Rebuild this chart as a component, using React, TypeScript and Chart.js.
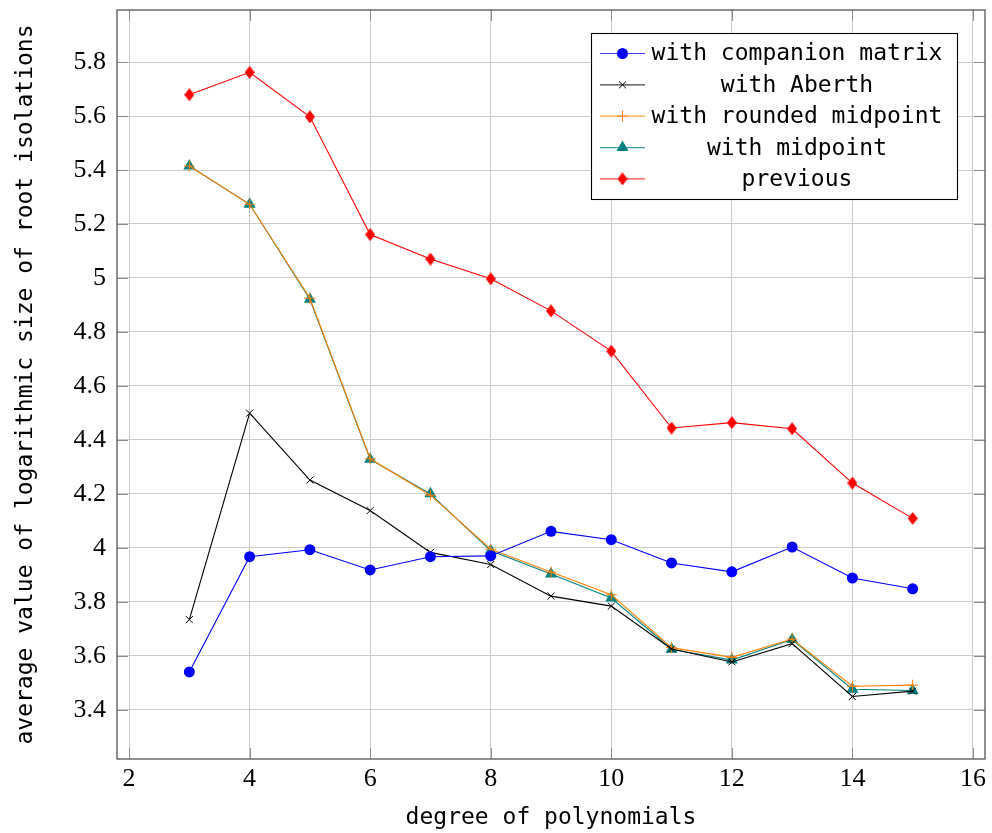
import React, { useEffect, useRef } from "react";
import { Chart, registerables } from "chart.js";
import { drawPoint } from "chart.js/helpers";

Chart.register(...registerables);

// ---- data ----
const degrees = [3, 4, 5, 6, 7, 8, 9, 10, 11, 12, 13, 14, 15];
const companion = [3.54, 3.967, 3.993, 3.918, 3.967, 3.97, 4.061, 4.03, 3.944, 3.911, 4.003, 3.888, 3.848];
const aberth = [3.734, 4.499, 4.251, 4.138, 3.983, 3.938, 3.821, 3.784, 3.625, 3.577, 3.645, 3.449, 3.469];
const roundedMidpoint = [5.415, 5.273, 4.925, 4.33, 4.195, 3.995, 3.91, 3.826, 3.63, 3.594, 3.662, 3.487, 3.491];
const midpoint = [5.415, 5.273, 4.921, 4.328, 4.2, 3.989, 3.903, 3.814, 3.624, 3.584, 3.66, 3.476, 3.471];
const previous = [5.679, 5.762, 5.597, 5.161, 5.07, 4.997, 4.878, 4.729, 4.444, 4.464, 4.441, 4.24, 4.109];

const seriesLabels = [
  "with companion matrix",
  "with Aberth",
  "with rounded midpoint",
  "with midpoint",
  "previous",
];
const xTicks = [2, 4, 6, 8, 10, 12, 14, 16];
const yTicks = [3.4, 3.6, 3.8, 4, 4.2, 4.4, 4.6, 4.8, 5, 5.2, 5.4, 5.6, 5.8];
const xTitle = "degree of polynomials";
const yTitle = "average value of logarithmic size of root isolations";

const MONO = "'DejaVu Sans Mono', 'Liberation Mono', monospace";
const SERIF = "'Liberation Serif', 'DejaVu Serif', serif";

function makeDiamond(color: string) {
  const c = document.createElement("canvas");
  c.width = 10;
  c.height = 13;
  const g = c.getContext("2d")!;
  g.fillStyle = color;
  g.beginPath();
  g.moveTo(5, 0);
  g.lineTo(10, 6.5);
  g.lineTo(5, 13);
  g.lineTo(0, 6.5);
  g.closePath();
  g.fill();
  return c;
}

const framePlugin = {
  id: "pgfFrame",
  afterDatasetsDraw(chart: any) {
    const { ctx, chartArea: a, scales } = chart;
    ctx.save();
    ctx.strokeStyle = "#8c8c8c";
    ctx.lineWidth = 1;
    const seg = (x1: number, y1: number, x2: number, y2: number) => {
      ctx.beginPath();
      ctx.moveTo(x1, y1);
      ctx.lineTo(x2, y2);
      ctx.stroke();
    };
    const tl = 11;
    for (const v of xTicks) {
      const px = Math.round(scales.x.getPixelForValue(v)) + 0.5;
      seg(px, a.bottom, px, a.bottom - tl);
      seg(px, a.top, px, a.top + tl);
    }
    for (const v of yTicks) {
      const py = Math.round(scales.y.getPixelForValue(v)) + 0.5;
      seg(a.left, py, a.left + tl, py);
      seg(a.right, py, a.right - tl, py);
    }
    ctx.strokeStyle = "#555555";
    ctx.lineWidth = 1.3;
    ctx.strokeRect(a.left, a.top, a.right - a.left, a.bottom - a.top);

    // legend
    const bw = 366;
    const bh = 166;
    const bx = a.right - 28 - bw;
    const by = a.top + 23;
    ctx.fillStyle = "#ffffff";
    ctx.fillRect(bx, by, bw, bh);
    ctx.strokeStyle = "#000000";
    ctx.lineWidth = 1.1;
    ctx.strokeRect(bx + 0.5, by + 0.5, bw, bh);
    const rowH = 31.35;
    const firstRow = by + 20.5;
    const textCenter = bx + 206;
    chart.data.datasets.forEach((ds: any, i: number) => {
      const cy = firstRow + i * rowH;
      ctx.globalAlpha = 0.75;
      ctx.strokeStyle = ds.borderColor;
      ctx.lineWidth = 1.2;
      seg(bx + 9, cy, bx + 54, cy);
      ctx.globalAlpha = 1;
      ctx.fillStyle = ds.pointBackgroundColor;
      ctx.strokeStyle = ds.pointBorderColor;
      ctx.lineWidth = ds.pointBorderWidth;
      drawPoint(ctx, { pointStyle: ds.pointStyle, radius: ds.pointRadius, rotation: 0, borderWidth: ds.pointBorderWidth }, bx + 31.5, cy);
      ctx.fillStyle = "#000000";
      ctx.font = `23px ${MONO}`;
      ctx.textAlign = "center";
      ctx.textBaseline = "middle";
      ctx.fillText(ds.label, textCenter, cy + 1);
    });
    ctx.restore();
  },
};

export default function App() {
  const ref = useRef<HTMLCanvasElement | null>(null);

  useEffect(() => {
    if (!ref.current) return;
    const mk = (vals: number[]) => degrees.map((d, i) => ({ x: d, y: vals[i] }));
    const styles = [
      { color: "#0000ff", pointStyle: "circle", radius: 5.5, bw: 0 },
      { color: "#000000", pointStyle: "crossRot", radius: 5, bw: 1 },
      { color: "#ff8000", pointStyle: "cross", radius: 5.5, bw: 1 },
      { color: "#008080", pointStyle: "triangle", radius: 7, bw: 0 },
      { color: "#ff0000", pointStyle: makeDiamond("#ff0000"), radius: 5, bw: 0 },
    ];
    const series = [companion, aberth, roundedMidpoint, midpoint, previous];
    const datasets = series.map((vals, i) => ({
      label: seriesLabels[i],
      data: mk(vals),
      borderColor: styles[i].color,
      backgroundColor: styles[i].color,
      pointBackgroundColor: styles[i].color,
      pointBorderColor: styles[i].color,
      pointBorderWidth: styles[i].bw,
      pointStyle: styles[i].pointStyle as any,
      pointRadius: styles[i].radius,
      pointHoverRadius: styles[i].radius,
      borderWidth: 1.1,
      tension: 0,
      fill: false,
    }));

    const chart = new Chart(ref.current, {
      type: "line",
      data: { datasets },
      plugins: [framePlugin],
      options: {
        animation: false,
        responsive: false,
        maintainAspectRatio: false,
        layout: { padding: { left: 12, top: 10, right: 6, bottom: 1 } },
        plugins: { legend: { display: false }, tooltip: { enabled: false } },
        scales: {
          x: {
            type: "linear",
            min: 1.8,
            max: 16.2,
            afterBuildTicks: (s: any) => {
              s.ticks = xTicks.map((v) => ({ value: v }));
            },
            afterFit: (s: any) => {
              s.height = 73;
              s.paddingLeft = 0;
              s.paddingRight = 0;
              s.paddingTop = 0;
              s.paddingBottom = 0;
            },
            grid: { color: "#cccccc", lineWidth: 1, drawTicks: false },
            border: { display: false },
            ticks: {
              padding: 5,
              color: "#000",
              font: { family: SERIF, size: 26 },
              callback: (v: any) => String(v),
            },
            title: {
              display: true,
              text: xTitle,
              color: "#000",
              font: { family: MONO, size: 23 },
              padding: 0,
            },
          },
          y: {
            type: "linear",
            min: 3.2174,
            max: 5.993,
            afterBuildTicks: (s: any) => {
              s.ticks = yTicks.map((v) => ({ value: v }));
            },
            afterFit: (s: any) => {
              s.width = 105;
              s.paddingLeft = 0;
              s.paddingRight = 0;
              s.paddingTop = 0;
              s.paddingBottom = 0;
            },
            grid: { color: "#cccccc", lineWidth: 1, drawTicks: false },
            border: { display: false },
            ticks: {
              padding: 11,
              color: "#000",
              font: { family: SERIF, size: 26 },
              callback: (v: any) => String(Math.round(v * 10) / 10),
            },
            title: {
              display: true,
              text: yTitle,
              color: "#000",
              font: { family: MONO, size: 23 },
              padding: 0,
            },
          },
        },
      },
    });
    return () => chart.destroy();
  }, []);

  return (
    <div style={{ position: "fixed", left: 0, top: 0, width: 992, height: 833, background: "#fff" }}>
      <canvas ref={ref} width={992} height={833} style={{ display: "block" }} />
    </div>
  );
}
